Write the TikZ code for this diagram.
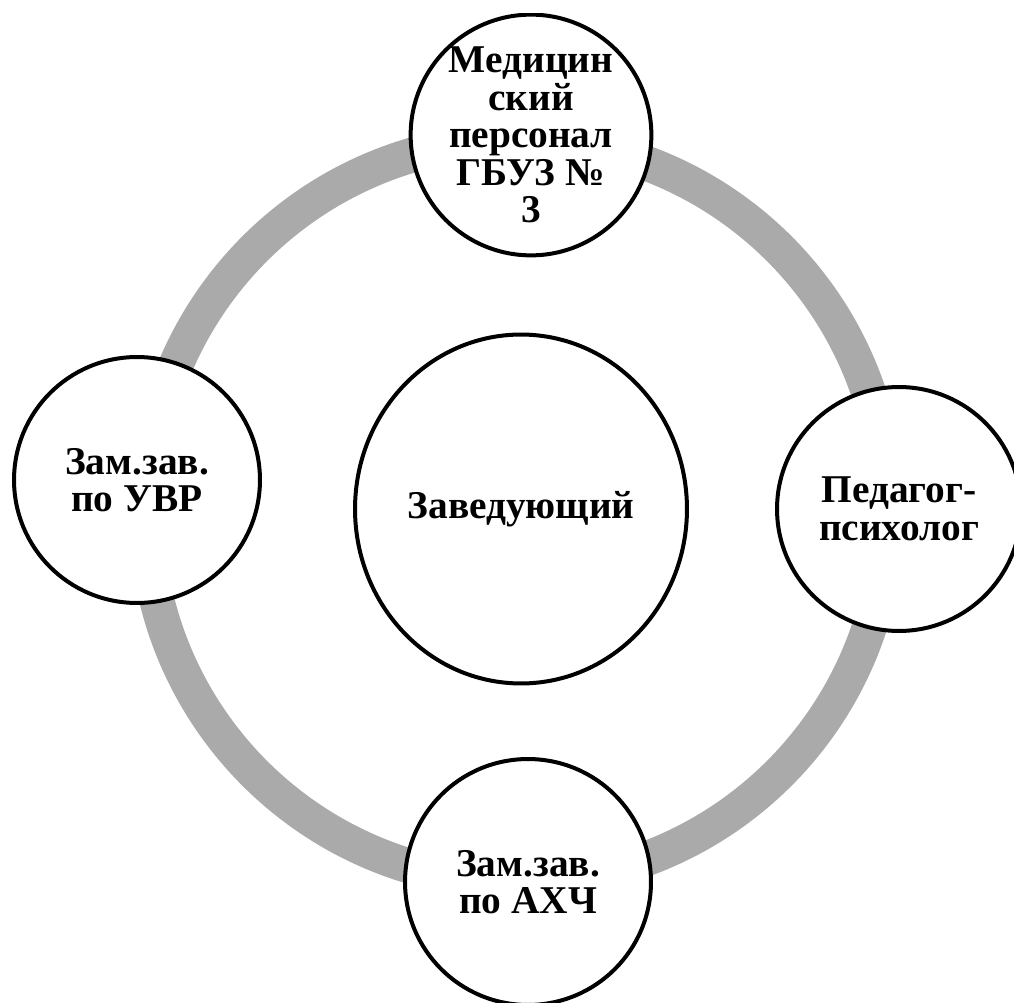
\documentclass[tikz,border=0pt]{standalone}
\usepackage{fontspec}
\setmainfont{Liberation Serif}
\usetikzlibrary{shapes.geometric}
\definecolor{ringgray}{RGB}{170,170,170}
\begin{document}
\begin{tikzpicture}[x=0.02cm,y=-0.02cm,
  unit/.style={circle,draw=black,line width=0.08cm,fill=white,inner sep=0pt,
    align=center,font=\bfseries\fontsize{22.4}{21.3}\selectfont},
  ringline/.style={draw=ringgray,line width=0.7cm}]
\useasboundingbox (0,0) rectangle (1014,1003);
\clip (0,14) rectangle (1014,1003);
\coordinate (rc) at (517,511);
\draw[ringline] (rc) circle [radius=7.42cm];
\node[unit,minimum size=4.8cm] (med) at (531,135) {Медицин\\ский\\персонал\\ГБУЗ №\\3};
\node[unit,minimum size=4.92cm] (uvr) at (137,480) {Зам.зав.\\по УВР};
\node[unit,minimum size=4.88cm] (psy) at (899,509) {Педагог-\\психолог};
\node[unit,minimum size=4.92cm] (ahch) at (528,882) {Зам.зав.\\по АХЧ};
\node[unit,ellipse,minimum width=6.64cm,minimum height=6.98cm] (head) at (521,509) {Заведующий};
\end{tikzpicture}
\end{document}
